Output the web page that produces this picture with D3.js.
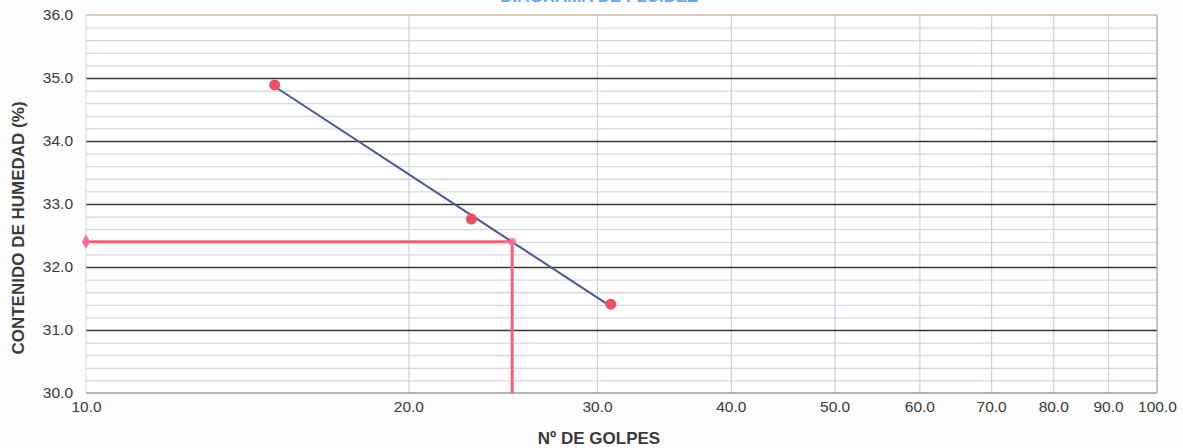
<!DOCTYPE html>
<html>
<head>
<meta charset="utf-8">
<script src="https://cdn.jsdelivr.net/npm/d3@7"></script>
<style>
  html, body { margin: 0; padding: 0; background: #fdfdfd; }
  svg { display: block; font-family: "Liberation Sans", Arial, sans-serif; }
</style>
</head>
<body>
<svg id="chart" width="1183" height="448"></svg>
<script>
// Limite liquido: numero de golpes vs contenido de humedad
const golpes = [15.0, 22.9, 30.9];
const humedad = [34.89, 32.76, 31.41];
const golpesRef = 25;
const limiteLiquido = 32.4;
const xTicks = [10, 20, 30, 40, 50, 60, 70, 80, 90, 100];
const yTicks = [30, 31, 32, 33, 34, 35, 36];
const titulo = "DIAGRAMA DE FLUIDEZ";

const svg = d3.select("#chart");
const m = { left: 86, right: 1157, top: 15, bottom: 393 };

const x = d3.scaleLog().domain([10, 100]).range([m.left, m.right]);
const y = d3.scaleLinear().domain([30, 36]).range([m.bottom, m.top]);

// title (runs off the top of the page)
svg.append("text")
  .attr("x", 599).attr("y", 2)
  .attr("text-anchor", "middle")
  .attr("font-size", 17).attr("font-weight", "bold")
  .attr("fill", "#6aa6dc")
  .text(titulo);

// plot background
svg.append("rect")
  .attr("x", m.left).attr("y", m.top)
  .attr("width", m.right - m.left).attr("height", m.bottom - m.top)
  .attr("fill", "#ffffff");

// minor horizontal grid every 0.2
const minorY = d3.range(30, 36.001, 0.2).filter(v => Math.abs(v - Math.round(v)) > 1e-6);
svg.append("g")
  .attr("transform", `translate(${m.left},0)`)
  .call(d3.axisLeft(y).tickValues(minorY).tickSize(-(m.right - m.left)).tickFormat(""))
  .call(g => g.select(".domain").remove())
  .call(g => g.selectAll("line").attr("stroke", "#d3d7e2").attr("stroke-width", 1.2));

// vertical grid at the log minor ticks
svg.append("g")
  .attr("transform", `translate(0,${m.bottom})`)
  .call(d3.axisBottom(x).tickValues(xTicks.slice(1, -1)).tickSize(-(m.bottom - m.top)).tickFormat(""))
  .call(g => g.select(".domain").remove())
  .call(g => g.selectAll("line").attr("stroke", "#cfd1da").attr("stroke-width", 1.2));

// major horizontal grid at each unit
svg.append("g")
  .attr("transform", `translate(${m.left},0)`)
  .call(d3.axisLeft(y).tickValues(yTicks.slice(1, -1)).tickSize(-(m.right - m.left)).tickFormat(""))
  .call(g => g.select(".domain").remove())
  .call(g => g.selectAll("line").attr("stroke", "#3a3534").attr("stroke-width", 1.6));

// plot frame
svg.append("line").attr("x1", m.left).attr("x2", m.right).attr("y1", m.top).attr("y2", m.top)
  .attr("stroke", "#d8b89a").attr("stroke-width", 1.6);
svg.append("line").attr("x1", m.left).attr("x2", m.right).attr("y1", m.bottom).attr("y2", m.bottom)
  .attr("stroke", "#9a9aa4").attr("stroke-width", 1.6);
svg.append("line").attr("x1", m.right).attr("x2", m.right).attr("y1", m.top).attr("y2", m.bottom)
  .attr("stroke", "#a0a0a8").attr("stroke-width", 1.2);
svg.append("line").attr("x1", m.left).attr("x2", m.left).attr("y1", m.top).attr("y2", m.bottom)
  .attr("stroke", "#d6d8e0").attr("stroke-width", 1);

// y tick labels
svg.append("g")
  .attr("transform", `translate(${m.left},0)`)
  .call(d3.axisLeft(y).tickValues(yTicks).tickSize(0).tickPadding(13).tickFormat(d3.format(".1f")))
  .call(g => g.select(".domain").remove())
  .call(g => g.selectAll("text").attr("font-size", 15.5).attr("fill", "#3a3a3a")
    .attr("font-family", "'Liberation Sans', Arial, sans-serif"));

// x tick labels
svg.append("g")
  .attr("transform", `translate(0,${m.bottom})`)
  .call(d3.axisBottom(x).tickValues(xTicks).tickSize(0).tickPadding(8).tickFormat(d3.format(".1f")))
  .call(g => g.select(".domain").remove())
  .call(g => g.selectAll("text").attr("font-size", 15.5).attr("fill", "#3a3a3a")
    .attr("font-family", "'Liberation Sans', Arial, sans-serif"));

// axis titles
svg.append("text")
  .attr("x", 599).attr("y", 444)
  .attr("text-anchor", "middle")
  .attr("font-size", 17).attr("font-weight", "bold").attr("fill", "#3a3a3a")
  .text("Nº DE GOLPES");
svg.append("text")
  .attr("transform", `translate(24,228) rotate(-90)`)
  .attr("text-anchor", "middle")
  .attr("font-size", 17).attr("font-weight", "bold").attr("fill", "#3a3a3a")
  .text("CONTENIDO DE HUMEDAD (%)");

// logarithmic trend line: humedad = a + b ln(golpes)
const lx = golpes.map(Math.log);
const mx = d3.mean(lx), my = d3.mean(humedad);
const b = d3.sum(lx, (v, i) => (v - mx) * (humedad[i] - my)) / d3.sum(lx, v => (v - mx) ** 2);
const a = my - b * mx;
const trend = d3.extent(golpes).map(g => [g, a + b * Math.log(g)]);

// limit lines at 25 golpes
svg.append("path")
  .attr("d", d3.line()([[x(10), y(limiteLiquido)], [x(golpesRef), y(limiteLiquido)], [x(golpesRef), y(30)]]))
  .attr("fill", "none").attr("stroke", "#ff5c78").attr("stroke-width", 3);
svg.append("path")
  .attr("d", d3.symbol(d3.symbolDiamond, 60)())
  .attr("transform", `translate(${x(10)},${y(limiteLiquido)})`)
  .attr("fill", "#ff6aa0");

svg.append("path")
  .attr("d", d3.line().x(d => x(d[0])).y(d => y(d[1]))(trend))
  .attr("fill", "none").attr("stroke", "#4a5792").attr("stroke-width", 2);

svg.append("circle")
  .attr("cx", x(golpesRef)).attr("cy", y(limiteLiquido)).attr("r", 4)
  .attr("fill", "#ff6aa0").attr("opacity", 0.8);

// measured points
svg.append("g").selectAll("circle")
  .data(golpes.map((g, i) => [g, humedad[i]]))
  .join("circle")
  .attr("cx", d => x(d[0])).attr("cy", d => y(d[1]))
  .attr("r", 5.5)
  .attr("fill", "#f0505e");
</script>
</body>
</html>
